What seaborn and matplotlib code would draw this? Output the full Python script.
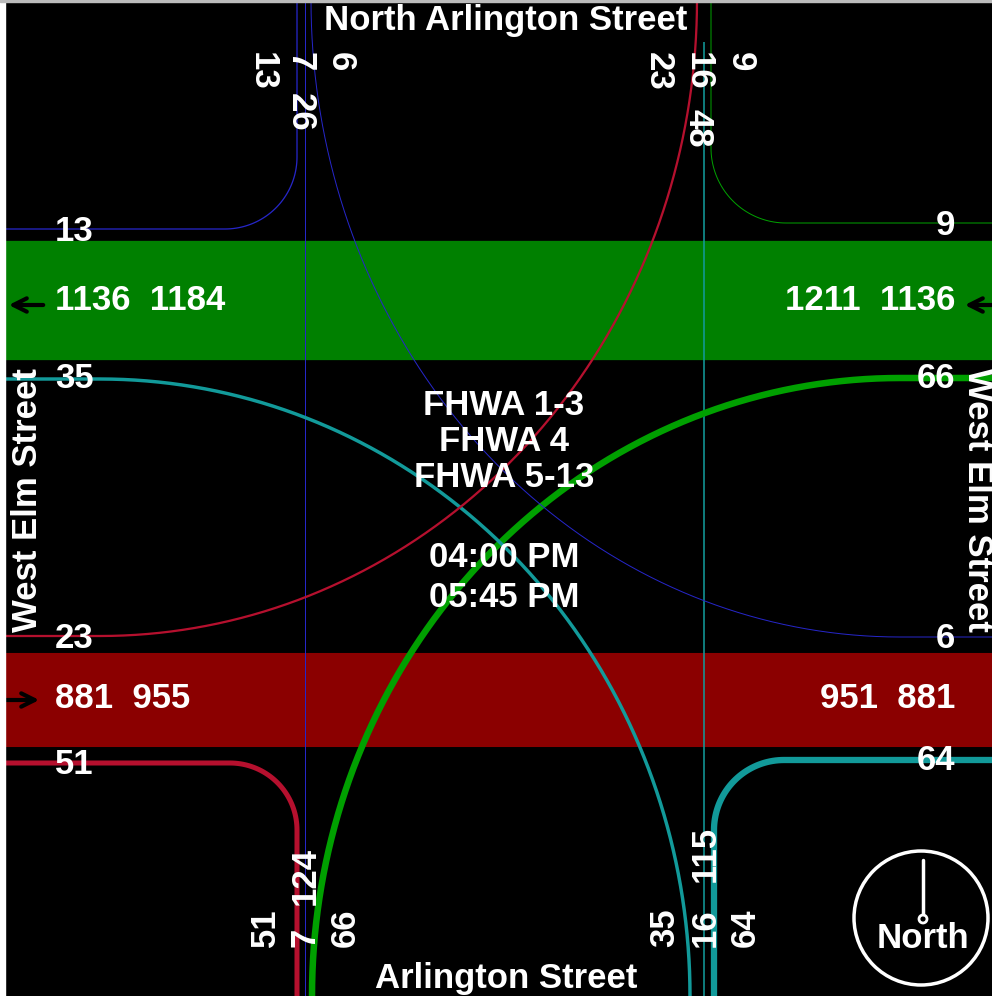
import numpy as np
import matplotlib.pyplot as plt
from matplotlib.patches import Circle
import seaborn as sns

# turning movement counts (right, through, left)
eb_counts = [51, 881, 23]
wb_counts = [9, 1136, 66]
sb_counts = [13, 7, 6]
nb_counts = [64, 16, 35]

# leg totals as printed
north_in, north_out = 26, 48
south_in, south_out = 115, 124
west_in, west_out = 955, 1184
east_in, east_out = 1211, 951

north_street = "North Arlington Street"
south_street = "Arlington Street"
side_street = "West Elm Street"
class_lines = ["FHWA 1-3", "FHWA 4", "FHWA 5-13"]
time_lines = ["04:00 PM", "05:45 PM"]

W, H = 992, 996
PX_PER_VEH = 0.0985
PT = 0.72  # points per pixel at dpi 100

col = {
    "eb_band": "#8b0000", "wb_band": "#008000",
    "eb": "#b5102e", "wb": "#00a000", "sb": "#2626c8", "nb": "#129a9a",
}


def lw(v):
    return max(v * PX_PER_VEH, 1.0) * PT


def right_turn(x_vert, y_horiz, y_end, x_end, r, n=40):
    sx = np.sign(x_end - x_vert)
    sy = np.sign(y_end - y_horiz)
    cx, cy = x_vert + sx * r, y_horiz + sy * r
    th = np.linspace(0, np.pi / 2, n)
    xs = np.concatenate([[x_vert], cx - sx * r * np.cos(th), [x_end]])
    ys = np.concatenate([[y_end], cy - sy * r * np.sin(th), [y_horiz]])
    return xs, ys


def left_turn(x_edge, y_h, cx, x_v, y_edge, n=80):
    th = np.linspace(0, np.pi / 2, n)
    xs = np.concatenate([[x_edge], cx + (x_v - cx) * np.sin(th)])
    ys = np.concatenate([[y_h], y_h + (y_edge - y_h) * (1 - np.cos(th))])
    return xs, ys


def draw(ax, xs, ys, color, width):
    sns.lineplot(x=xs, y=ys, sort=False, estimator=None, color=color,
                 linewidth=width, solid_capstyle="butt", legend=False, ax=ax)


sns.set_theme(style="dark")
plt.rcParams["font.family"] = ["Liberation Sans", "DejaVu Sans"]

fig = plt.figure(figsize=(W / 100, H / 100), dpi=100, facecolor="black")
ax = fig.add_axes([0, 0, 1, 1])
ax.set_facecolor("black")
ax.set_xlim(0, W)
ax.set_ylim(H, 0)
ax.axis("off")

# through bands on West Elm
wb_y, eb_y = 300, 700
draw(ax, np.array([5, W]), np.array([wb_y, wb_y]), col["wb_band"], lw(max(east_in, west_out)))
draw(ax, np.array([5, W]), np.array([eb_y, eb_y]), col["eb_band"], lw(max(west_in, east_out)))

# through movements on Arlington
draw(ax, np.array([305, 305]), np.array([0, H]), col["sb"], lw(sb_counts[1]))
draw(ax, np.array([704, 704]), np.array([42, H]), col["nb"], lw(nb_counts[1]))

# right turns
draw(ax, *right_turn(297, 229, 0, 5, 72), col["sb"], lw(sb_counts[0]))
draw(ax, *right_turn(711, 223, 0, W, 75), col["wb"], lw(wb_counts[0]))
draw(ax, *right_turn(297, 763, H, 5, 67), col["eb"], lw(eb_counts[0]))
draw(ax, *right_turn(714, 760, H, W, 70), col["nb"], lw(nb_counts[0]))

# left turns
draw(ax, *left_turn(W, 378, 900, 312, H), col["wb"], lw(wb_counts[2]))
draw(ax, *left_turn(5, 379, 100, 690, H), col["nb"], lw(nb_counts[2]))
draw(ax, *left_turn(5, 636, 100, 697, 0), col["eb"], lw(eb_counts[2]))
draw(ax, *left_turn(W, 637, 900, 311, 0), col["sb"], lw(sb_counts[2]))

txt = dict(color="white", fontsize=25, fontweight="bold")

# street names
ax.text(506, 20, north_street, ha="center", va="center", **txt)
ax.text(506, 978, south_street, ha="center", va="center", **txt)
ax.text(28, 500, side_street, ha="center", va="center", rotation=90, **txt)
ax.text(977, 500, side_street, ha="center", va="center", rotation=-90, **txt)

# north leg labels (read downward)
for x, v in zip([262, 300, 340], sb_counts):
    ax.text(x, 52, str(v), ha="center", va="top", rotation=-90, **txt)
ax.text(300, 93, str(north_in), ha="center", va="top", rotation=-90, **txt)
for x, v in zip([658, 698, 740], [eb_counts[2], nb_counts[1], wb_counts[0]]):
    ax.text(x, 52, str(v), ha="center", va="top", rotation=-90, **txt)
ax.text(698, 109, str(north_out), ha="center", va="top", rotation=-90, **txt)

# south leg labels (read upward)
for x, v in zip([265, 305, 345], [eb_counts[0], sb_counts[1], wb_counts[2]]):
    ax.text(x, 947, str(v), ha="center", va="bottom", rotation=90, **txt)
ax.text(305, 905, str(south_out), ha="center", va="bottom", rotation=90, **txt)
for x, v in zip([665, 705, 745], [nb_counts[2], nb_counts[1], nb_counts[0]]):
    ax.text(x, 947, str(v), ha="center", va="bottom", rotation=90, **txt)
ax.text(705, 882, str(south_in), ha="center", va="bottom", rotation=90, **txt)

# west leg labels
ax.text(55, 231, str(sb_counts[0]), ha="left", va="center", **txt)
ax.text(55, 300, f"{wb_counts[1]}  {west_out}", ha="left", va="center", **txt)
ax.text(55, 378, str(nb_counts[2]), ha="left", va="center", **txt)
ax.text(55, 638, str(eb_counts[2]), ha="left", va="center", **txt)
ax.text(55, 698, f"{eb_counts[1]}  {west_in}", ha="left", va="center", **txt)
ax.text(55, 764, str(eb_counts[0]), ha="left", va="center", **txt)

# east leg labels
ax.text(955, 225, str(wb_counts[0]), ha="right", va="center", **txt)
ax.text(955, 300, f"{east_in}  {wb_counts[1]}", ha="right", va="center", **txt)
ax.text(955, 378, str(wb_counts[2]), ha="right", va="center", **txt)
ax.text(955, 638, str(sb_counts[2]), ha="right", va="center", **txt)
ax.text(955, 698, f"{east_out}  {eb_counts[1]}", ha="right", va="center", **txt)
ax.text(955, 760, str(nb_counts[0]), ha="right", va="center", **txt)

# centre block
for i, s in enumerate(class_lines):
    ax.text(504, 405 + i * 36, s, ha="center", va="center", **txt)
for i, s in enumerate(time_lines):
    ax.text(504, 557 + i * 40, s, ha="center", va="center", **txt)

# direction arrows at the band ends
arrow = dict(arrowstyle="->", color="black", lw=3, mutation_scale=24)
ax.annotate("", xy=(6, 305), xytext=(46, 305), arrowprops=arrow)
ax.annotate("", xy=(962, 305), xytext=(W + 5, 305), arrowprops=arrow)
ax.annotate("", xy=(42, 700), xytext=(2, 700), arrowprops=arrow)
ax.annotate("", xy=(W + 2, 700), xytext=(962, 700), arrowprops=arrow)

# north arrow
ax.add_patch(Circle((921, 918), 67, fill=False, ec="white", lw=2.5))
ax.plot([923, 923], [860, 914], color="white", lw=2.5)
ax.add_patch(Circle((923, 919), 4, fill=True, fc="black", ec="white", lw=2))
ax.text(923, 938, "North", ha="center", va="center", **txt)

# thin white frame on the left and top
ax.axvspan(0, 5, color="white", zorder=10)
ax.axhspan(0, 2, color="#bbbbbb", zorder=10)

fig.savefig("out.png", dpi=100, facecolor="black")
